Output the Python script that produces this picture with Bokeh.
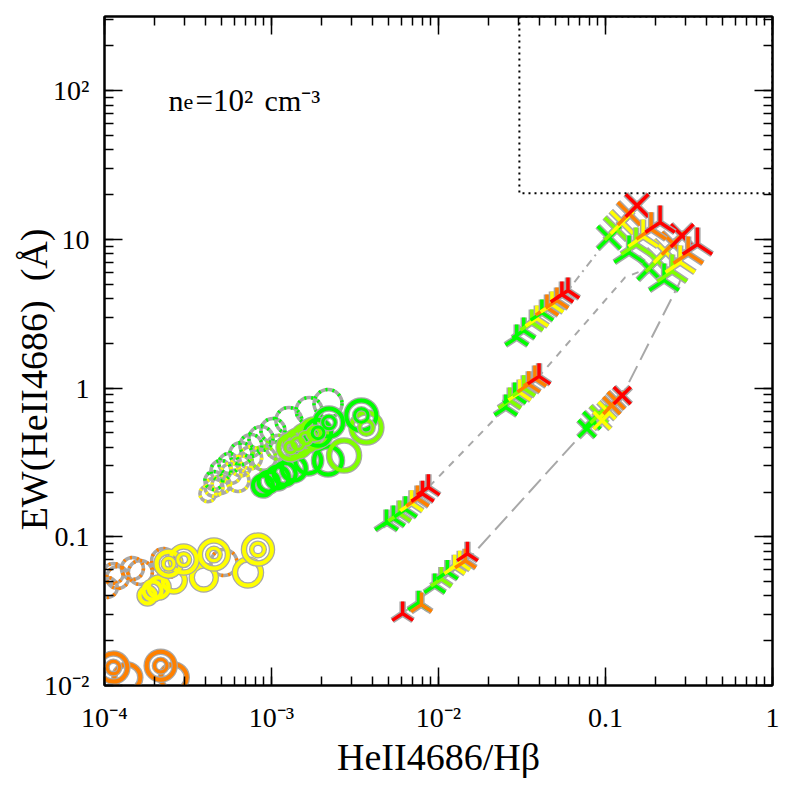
import math
from bokeh.plotting import figure
from bokeh.models import (Range1d, LogAxis, LogTicker, CustomJSTickFormatter,
                          ColumnDataSource, Label, BoxAnnotation)
from bokeh.embed import file_html
from bokeh.resources import INLINE

R, O, Y, YG, G = "#ff0000", "#ff8000", "#ffff00", "#80ff00", "#00ff00"
GRAY = "#a8a8a8"
FONT = "Liberation Serif"
NB = "\u00a0"

# ---- tick labels ----
x_tick_exp = [-4, -3, -2, -1, 0]
x_tick_labels = ["10⁻⁴", "10⁻³", "10⁻²", "0.1", "1"]
y_tick_exp = [-2, -1, 0, 1, 2]
y_tick_labels = ["10⁻²", "0.1", "1", "10", "10²"]

# ---- tri "Y" shaped model markers ----
A_x = [0.0061, 0.0076, 0.0079, 0.0095, 0.0104, 0.0113, 0.0125, 0.0134, 0.0145, 0.0149]
A_y = [0.0305, 0.036, 0.035, 0.047, 0.052, 0.058, 0.063, 0.067, 0.069, 0.077]
A_c = [R, G, O, G, YG, G, Y, Y, O, R]

B_x = [0.00488, 0.00537, 0.00584, 0.00634, 0.00689, 0.00748, 0.00802, 0.0087]
B_y = [0.125, 0.133, 0.1435, 0.153, 0.168, 0.181, 0.195, 0.215]
B_c = [G, G, YG, G, Y, O, R, R]

E_x = [0.0294, 0.0324, 0.0362, 0.0388, 0.0416, 0.0446, 0.0478, 0.0512, 0.0548, 0.0596]
E_y = [2.19, 2.44, 2.76, 2.94, 3.22, 3.48, 3.65, 3.88, 4.26, 4.53]
E_c = [G, G, YG, Y, G, O, Y, O, R, R]

C_x = [0.0253, 0.0267, 0.0286, 0.0306, 0.0324, 0.0347, 0.0378, 0.04]
C_y = [0.741, 0.826, 0.891, 0.934, 0.997, 1.06, 1.16, 1.2]
C_c = [G, YG, G, Y, YG, O, O, R]

# ---- cross markers ----
D_x = [0.0774, 0.083, 0.0914, 0.0953, 0.102, 0.109, 0.116, 0.126]
D_y = [0.534, 0.605, 0.664, 0.605, 0.706, 0.763, 0.826, 0.891]
D_c = [G, G, YG, Y, Y, O, O, R]

# big cluster: rows 1 and 3 drawn as crosses, rows 2 and 4 as tri markers
F1_x = [0.105, 0.1156, 0.1256, 0.1384, 0.1545,
        0.1824, 0.2037, 0.2275, 0.254, 0.2877]
F1_y = [10.3, 11.8, 13.0, 14.9, 16.9,
        6.37, 7.21, 8.3, 9.38, 10.6]
F1_c = [G, YG, Y, O, R, G, YG, Y, O, R]
F2_x = [0.1384, 0.1524, 0.168, 0.1875, 0.2123,
        0.2244, 0.2506, 0.28, 0.3126, 0.355]
F2_y = [8.17, 9.25, 10.45, 11.7, 13.0,
        5.3, 6.08, 7.0, 8.04, 9.25]
F2_c = [G, YG, Y, O, R, G, YG, Y, O, R]

# ---- connecting lines ----
L1_x = [0.0294, 0.0596, 0.105]
L1_y = [2.19, 4.53, 10.3]
L2_x = [0.00488, 0.0087, 0.0253, 0.04, 0.131, 0.18]
L2_y = [0.125, 0.215, 0.741, 1.2, 5.55, 6.4]
L3_x = [0.0061, 0.0158, 0.0774, 0.126, 0.276, 0.29]
L3_y = [0.0305, 0.0748, 0.534, 0.891, 5.05, 6.0]

# ---- ring markers ----
SR_x = [1.81e-4, 1.94e-4, 2.11e-4, 2.6e-4, 3.93e-4, 7.23e-4,
        1.37e-4, 2.6e-4,
        8.89e-4, 9.6e-4, 1.09e-3, 1.2e-3, 1.36e-3, 1.66e-3, 2.18e-3, 2.72e-3]
SR_y = [0.0403, 0.0435, 0.0456, 0.0508, 0.0532, 0.0575,
        0.0113, 0.0113,
        0.221, 0.235, 0.251, 0.265, 0.288, 0.326, 0.326, 0.352]
SR_c = [Y, Y, Y, Y, Y, Y, O, O, G, G, G, G, G, G, G, YG]
SR_s = [16, 18, 20, 22, 24, 26, 26, 26, 20, 20, 22, 22, 24, 26, 28, 30]

DR_x = [1.13e-4, 2.17e-4, 2.42e-4, 2.98e-4, 4.52e-4, 8.3e-4,
        1.3e-3, 1.44e-3, 1.6e-3, 1.8e-3, 3.7e-3, 1.9e-3, 2.21e-3, 3.45e-3]
DR_y = [0.0132, 0.0136, 0.066, 0.0703, 0.076, 0.0822,
        0.40, 0.424, 0.46, 0.495, 0.543, 0.5, 0.587, 0.655]
DR_c = [O, O, Y, Y, Y, Y, YG, YG, YG, YG, YG, G, G, G]
DR_s = [28, 28, 24, 26, 28, 28, 24, 26, 26, 28, 30, 26, 28, 30]

OR_x = [1.04e-4, 1.13e-4, 1.2e-4, 1.47e-4, 1.64e-4, 2.26e-4, 2.4e-4, 5.19e-4,
        4.16e-4, 4.52e-4, 5.0e-4, 5.71e-4, 6.3e-4, 6.56e-4, 7.5e-4,
        4.52e-4, 4.98e-4, 5.56e-4, 6.56e-4, 7.53e-4, 8.65e-4, 1.02e-3, 1.27e-3, 1.68e-3, 2.18e-3,
        9.0e-4, 1.1e-3]
OR_y = [0.0456, 0.0566, 0.0532, 0.0612, 0.0575, 0.0693, 0.064, 0.0672,
        0.195, 0.215, 0.225, 0.267, 0.239, 0.3, 0.34,
        0.239, 0.279, 0.311, 0.363, 0.411, 0.458, 0.519, 0.605, 0.706, 0.787,
        0.337, 0.4]
OR_c = [O] * 8 + [Y] * 7 + [G] * 10 + [YG] * 2
OR_s = [20, 20, 22, 22, 24, 24, 24, 26,
        16, 18, 18, 20, 22, 20, 22,
        18, 20, 20, 22, 22, 24, 24, 26, 26, 28,
        24, 24]

p = figure(x_axis_type="log", y_axis_type="log",
           x_range=Range1d(1e-4, 1), y_range=Range1d(1e-2, 315.6),
           frame_width=668, frame_height=669,
           min_border_left=104, min_border_right=8, min_border_top=16, min_border_bottom=96,
           output_backend="svg", toolbar_location=None)
p.xgrid.visible = False
p.ygrid.visible = False
p.outline_line_color = "black"
p.outline_line_width = 2
p.background_fill_color = "white"


def fmt(exps, labels):
    return CustomJSTickFormatter(args=dict(exps=exps, labels=labels), code="""
        const k = Math.round(Math.log10(tick));
        const i = exps.indexOf(k);
        return i >= 0 ? labels[i] : '';
    """)


def style_axis(ax, show):
    ax.ticker = LogTicker(num_minor_ticks=10)
    ax.major_tick_in = 18
    ax.major_tick_out = 0
    ax.minor_tick_in = 9
    ax.minor_tick_out = 0
    ax.major_tick_line_width = 1.5
    ax.minor_tick_line_width = 1.5
    ax.axis_line_width = 2
    ax.major_tick_line_color = "black"
    ax.minor_tick_line_color = "black"
    if not show:
        ax.major_label_text_font_size = "0px"
        ax.major_label_standoff = 0


xa = p.xaxis[0]
ya = p.yaxis[0]
style_axis(xa, True)
style_axis(ya, True)
xa.formatter = fmt(x_tick_exp, x_tick_labels)
ya.formatter = fmt(y_tick_exp, y_tick_labels)
for ax in (xa, ya):
    ax.major_label_text_font = FONT
    ax.major_label_text_font_size = "28px"
    ax.major_label_text_color = "black"
    ax.axis_label_text_font = FONT
    ax.axis_label_text_font_size = "38px"
    ax.axis_label_text_font_style = "normal"
    ax.axis_label_text_color = "black"
xa.major_label_standoff = 16
ya.major_label_standoff = 15
xa.axis_label = "HeII4686/Hβ"
ya.axis_label = "EW(HeII4686)" + NB + NB + "(Å)" + NB * 6
xa.axis_label_standoff = 0
ya.axis_label_standoff = -14

top = LogAxis()
right = LogAxis()
style_axis(top, False)
style_axis(right, False)
top.formatter = fmt([], [])
right.formatter = fmt([], [])
p.add_layout(top, "above")
p.add_layout(right, "right")

# dotted box
p.add_layout(BoxAnnotation(left=0.0305, bottom=20.4, fill_color=None, fill_alpha=0,
                           line_color="black", line_alpha=1.0, line_width=2,
                           line_dash="2 4"))

# connecting lines
p.line(L1_x, L1_y, line_color=GRAY, line_width=2, line_dash="8 5 2 5")
p.line(L2_x, L2_y, line_color=GRAY, line_width=2, line_dash="7 7")
p.line(L3_x, L3_y, line_color=GRAY, line_width=2, line_dash="18 7")


def rings(xs, ys, cs, ss, kind):
    src = ColumnDataSource(dict(x=xs, y=ys, c=cs, s=ss,
                                s2=[v * 0.45 for v in ss]))
    if kind == "dotted":
        p.scatter("x", "y", source=src, marker="circle", size="s", fill_color=None,
                  line_color=GRAY, line_width=3.5)
        p.scatter("x", "y", source=src, marker="circle", size="s", fill_color=None,
                  line_color="c", line_width=3.5, line_dash="2 5")
    else:
        p.scatter("x", "y", source=src, marker="circle", size="s", fill_color=None,
                  line_color=GRAY, line_width=6.5)
        p.scatter("x", "y", source=src, marker="circle", size="s", fill_color=None,
                  line_color="c", line_width=4)
        if kind == "double":
            p.scatter("x", "y", source=src, marker="circle", size="s2", fill_color=None,
                      line_color=GRAY, line_width=5.5)
            p.scatter("x", "y", source=src, marker="circle", size="s2", fill_color=None,
                      line_color="c", line_width=3)


rings(OR_x, OR_y, OR_c, OR_s, "dotted")
rings(SR_x, SR_y, SR_c, SR_s, "solid")
rings(DR_x, DR_y, DR_c, DR_s, "double")


def stars(xs, ys, cs, marker, size, angle):
    src = ColumnDataSource(dict(x=xs, y=ys, c=cs))
    p.scatter("x", "y", source=src, marker=marker, size=size, angle=angle,
              line_color=GRAY, line_width=6.5)
    p.scatter("x", "y", source=src, marker=marker, size=size, angle=angle,
              line_color="c", line_width=3.5)


stars(A_x, A_y, A_c, "y", 24, math.pi)
stars(B_x, B_y, B_c, "y", 26, math.pi)
stars(E_x, E_y, E_c, "y", 26, math.pi)
stars(C_x, C_y, C_c, "y", 26, math.pi)
stars(D_x, D_y, D_c, "x", 24, 0.0)
stars(F1_x, F1_y, F1_c, "x", 32, 0.0)
stars(F2_x, F2_y, F2_c, "y", 34, math.pi)

lx, ly = 2.42e-4, 86
p.add_layout(Label(x=lx, y=ly, text="n", text_font=FONT, text_font_size="30px",
                   text_color="black", text_baseline="alphabetic"))
p.add_layout(Label(x=lx, y=ly, x_offset=15, y_offset=-2, text="e", text_font=FONT,
                   text_font_size="22px", text_color="black", text_baseline="alphabetic"))
p.add_layout(Label(x=lx, y=ly, x_offset=27, text="=10²", text_font=FONT,
                   text_font_size="31px", text_color="black", text_baseline="alphabetic"))
p.add_layout(Label(x=lx, y=ly, x_offset=96, text="cm⁻³", text_font=FONT,
                   text_font_size="30px", text_color="black", text_baseline="alphabetic"))

open("out.html", "w").write(file_html(p, INLINE))
